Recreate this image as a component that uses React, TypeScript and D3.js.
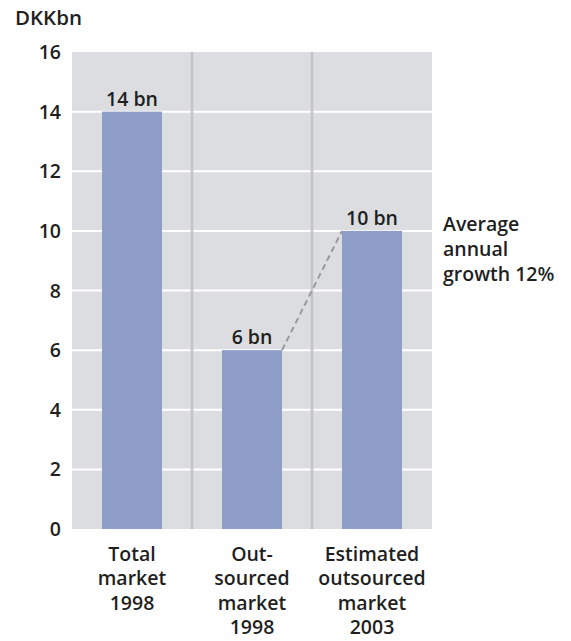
import React from "react";
import * as d3 from "d3";

const categories = ["total1998", "outsourced1998", "outsourced2003"];
const values = [14, 6, 10];
const valueLabels = ["14 bn", "6 bn", "10 bn"];
const categoryLines = [
  ["Total", "market", "1998"],
  ["Out-", "sourced", "market", "1998"],
  ["Estimated", "outsourced", "market", "2003"],
];
const yTicks = [0, 2, 4, 6, 8, 10, 12, 14, 16];
const growthNote = ["Average", "annual", "growth 12%"];
const unitLabel = "DKKbn";

const W = 571;
const H = 641;
const margin = { left: 72, right: 139, top: 52, bottom: 112 };
const FONT = "'Open Sans', 'Noto Sans', sans-serif";
const TEXT = "#1f1f1f";
const FS = 19.5;
const FW = 600;

export default function App() {
  const x = d3
    .scaleBand<string>()
    .domain(categories)
    .range([margin.left, W - margin.right])
    .paddingInner(0.5)
    .paddingOuter(0.25);
  const y = d3.scaleLinear().domain([0, 16]).range([H - margin.bottom, margin.top]);
  const step = x.step();
  const bw = x.bandwidth();
  const plotLeft = margin.left;
  const plotRight = W - margin.right;

  const from = { x: (x(categories[1]) ?? 0) + bw, y: y(values[1]) };
  const to = { x: x(categories[2]) ?? 0, y: y(values[2]) };

  return (
    <svg
      width={W}
      height={H}
      style={{ position: "absolute", left: 0, top: 0, background: "#fff" }}
      fontFamily={FONT}
    >
      <text x={15} y={25} fontSize={20.5} fontWeight={FW} fill={TEXT}>
        {unitLabel}
      </text>

      {/* plot background */}
      <rect
        x={plotLeft}
        y={y(16)}
        width={plotRight - plotLeft}
        height={y(0) - y(16)}
        fill="#dcdde0"
      />

      {/* white horizontal gridlines */}
      {yTicks
        .filter((t) => t > 0 && t < 16)
        .map((t) => (
          <line
            key={t}
            x1={plotLeft}
            x2={plotRight}
            y1={y(t)}
            y2={y(t)}
            stroke="#ffffff"
            strokeWidth={2}
          />
        ))}

      {/* band separators */}
      {categories.slice(1).map((c) => {
        const sx = (x(c) ?? 0) - (step - bw) / 2;
        return (
          <line
            key={c}
            x1={sx}
            x2={sx}
            y1={y(16)}
            y2={y(0)}
            stroke="#c3c4c7"
            strokeWidth={2.5}
          />
        );
      })}

      {/* bars */}
      {categories.map((c, i) => (
        <rect
          key={c}
          x={x(c)}
          y={y(values[i])}
          width={bw}
          height={y(0) - y(values[i])}
          fill="#8f9ec8"
        />
      ))}

      {/* growth connector */}
      <line
        x1={from.x}
        y1={from.y}
        x2={to.x}
        y2={to.y}
        stroke="#999a9d"
        strokeWidth={2}
        strokeDasharray="6,4"
      />

      {/* value labels */}
      {categories.map((c, i) => (
        <text
          key={c}
          x={(x(c) ?? 0) + bw / 2}
          y={y(values[i]) - 6}
          textAnchor="middle"
          fontSize={FS}
          fontWeight={FW}
          fill={TEXT}
        >
          {valueLabels[i]}
        </text>
      ))}

      {/* y tick labels */}
      {yTicks.map((t) => (
        <text
          key={t}
          x={61}
          y={y(t) + 7}
          textAnchor="end"
          fontSize={FS}
          fontWeight={FW}
          fill={TEXT}
        >
          {t}
        </text>
      ))}

      {/* category labels */}
      {categories.map((c, i) => (
        <text
          key={c}
          x={(x(c) ?? 0) + bw / 2}
          textAnchor="middle"
          fontSize={FS}
          fontWeight={FW}
          fill={TEXT}
        >
          {categoryLines[i].map((ln, j) => (
            <tspan key={j} x={(x(c) ?? 0) + bw / 2} y={561 + j * 24.4}>
              {ln}
            </tspan>
          ))}
        </text>
      ))}

      {/* growth note */}
      <text fontSize={FS} fontWeight={FW} fill={TEXT}>
        {growthNote.map((ln, j) => (
          <tspan key={j} x={443} y={231 + j * 25}>
            {ln}
          </tspan>
        ))}
      </text>
    </svg>
  );
}
